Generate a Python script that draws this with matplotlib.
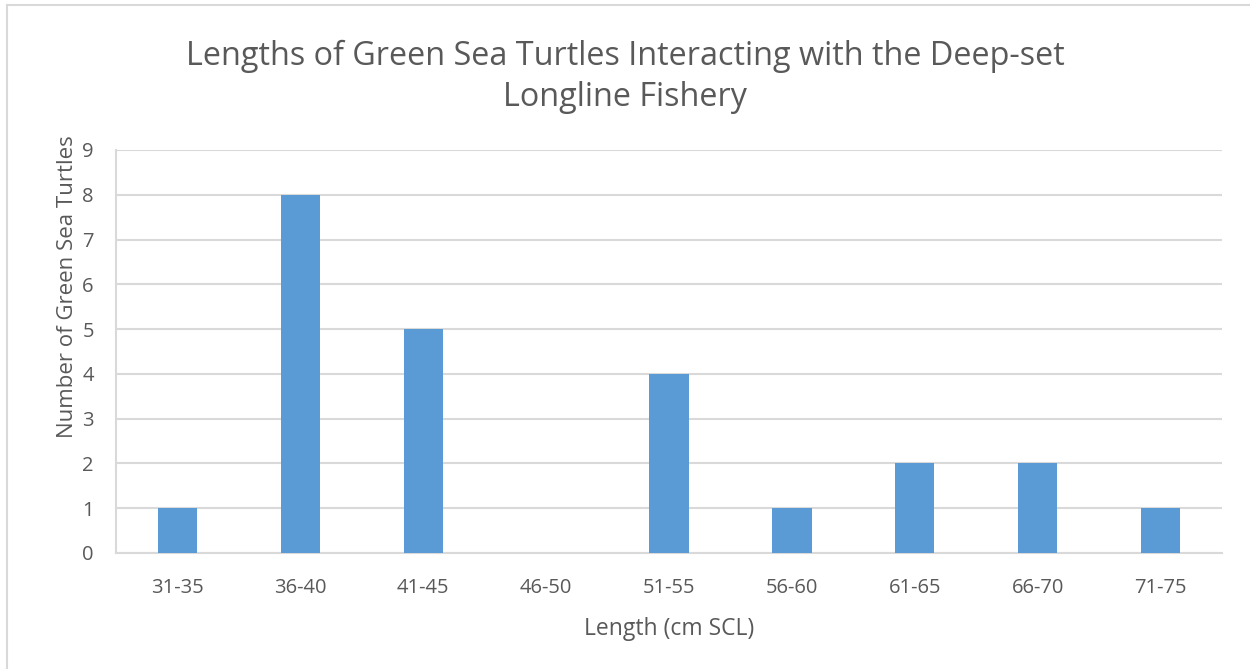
import numpy as np
import matplotlib
matplotlib.use("Agg")
import matplotlib.pyplot as plt
from matplotlib.lines import Line2D

plt.rcParams["font.family"] = ["Open Sans", "DejaVu Sans"]

length_bins = ["31-35", "36-40", "41-45", "46-50", "51-55",
               "56-60", "61-65", "66-70", "71-75"]
turtle_counts = [1, 8, 5, 0, 4, 1, 2, 2, 1]

text_color = "#595959"
grid_color = "#D9D9D9"
bar_color = "#5B9BD5"

fig = plt.figure(figsize=(12.5, 6.69), dpi=100)
ax = fig.add_axes([0.0928, 0.1734, 0.8848, 0.6024])

x = np.arange(len(length_bins))
ax.bar(x, turtle_counts, width=0.32, color=bar_color, zorder=3)

ax.set_xlim(-0.5, len(length_bins) - 0.5)
ax.set_ylim(0, 9)
ax.set_yticks(range(0, 10))
ax.set_xticks(x, length_bins)

ax.grid(axis="y", color=grid_color, linewidth=1.5, zorder=0)
for side in ["top", "right"]:
    ax.spines[side].set_visible(False)
ax.spines["left"].set_color(grid_color)
ax.spines["left"].set_linewidth(1.5)
ax.spines["bottom"].set_color(grid_color)
ax.spines["bottom"].set_linewidth(1.5)

ax.tick_params(axis="both", length=0, labelsize=14.5, colors=text_color)
ax.tick_params(axis="x", pad=18)
ax.tick_params(axis="y", pad=16)

ax.set_xlabel("Length (cm SCL)", fontsize=16.5, color=text_color)
ax.xaxis.set_label_coords(0.5, -0.16)
ax.set_ylabel("Number of Green Sea Turtles", fontsize=16, color=text_color)
ax.yaxis.set_label_coords(-0.034, 0.66)

fig.text(0.5, 0.885, "Lengths of Green Sea Turtles Interacting with the Deep-set\nLongline Fishery",
         ha="center", va="center", fontsize=23.3, color=text_color,
         linespacing=1.3)

# chart frame (left and top edges visible)
fig.add_artist(Line2D([7 / 1250, 7 / 1250], [0, 1 - 5 / 669],
                      transform=fig.transFigure, color=grid_color, linewidth=1.5))
fig.add_artist(Line2D([7 / 1250, 1], [1 - 5 / 669, 1 - 5 / 669],
                      transform=fig.transFigure, color=grid_color, linewidth=1.5))

fig.savefig("out.png", dpi=100, facecolor="white")
